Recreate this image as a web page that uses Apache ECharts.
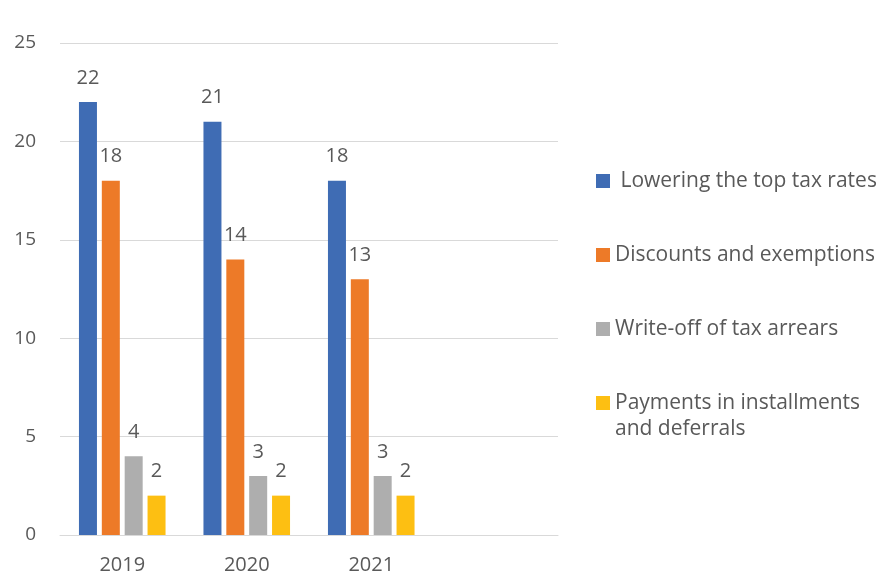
<!DOCTYPE html>
<html>
<head>
<meta charset="utf-8">
<script src="https://cdn.jsdelivr.net/npm/echarts@6/dist/echarts.min.js"></script>
<style>html,body{margin:0;padding:0;background:#fff;}#c{width:878px;height:577px;}</style>
</head>
<body>
<div id="c"></div>
<script>
const categories = ['2019', '2020', '2021', ''];
const seriesNames = ['Lowering the top tax rates', 'Discounts and exemptions', 'Write-off of tax arrears', 'Payments in installments and deferrals'];
const lowering = [22, 21, 18, null];
const discounts = [18, 14, 13, null];
const writeOff = [4, 3, 3, null];
const payments = [2, 2, 2, null];
const yTicks = [0, 5, 10, 15, 20, 25];

const colors = ['#3F6CB4', '#ED7A28', '#AEAEAE', '#FDBF12'];
const textColor = '#595959';
const font = '"Open Sans", "Noto Sans", sans-serif';
const values = [lowering, discounts, writeOff, payments];

const chart = echarts.init(document.getElementById('c'), null, {renderer: 'canvas'});
chart.setOption({
  animation: false,
  grid: {left: 60, right: 320, top: 43, bottom: 42, containLabel: false},
  xAxis: {
    type: 'category',
    data: categories,
    axisLine: {show: true, lineStyle: {color: '#d9d9d9', width: 1}},
    axisTick: {show: false},
    axisLabel: {color: textColor, fontSize: 20, fontFamily: font, margin: 20}
  },
  yAxis: {
    type: 'value',
    min: yTicks[0],
    max: yTicks[yTicks.length - 1],
    interval: 5,
    axisLine: {show: false},
    axisTick: {show: false},
    splitLine: {lineStyle: {color: '#d9d9d9', width: 1}},
    axisLabel: {color: textColor, fontSize: 19, fontFamily: font, margin: 24}
  },
  legend: {
    orient: 'vertical',
    left: 591,
    top: 162,
    itemWidth: 14,
    itemHeight: 14,
    itemGap: 46,
    icon: 'rect',
    selectedMode: false,
    textStyle: {color: textColor, fontSize: 21, fontFamily: font, lineHeight: 28},
    formatter: function (name) {
      if (name === seriesNames[0]) return ' ' + name;
      if (name === seriesNames[3]) return 'Payments in installments';
      return name;
    },
    data: seriesNames
  },
  graphic: [{
    type: 'text',
    left: 615,
    top: 419,
    style: {text: 'and deferrals', fill: textColor, font: '21px ' + font}
  }],
  series: values.map(function (v, i) {
    return {
      name: seriesNames[i],
      type: 'bar',
      data: v,
      barWidth: 18,
      barGap: '27%',
      itemStyle: {color: colors[i]},
      label: {show: true, position: 'top', distance: 14, color: textColor, fontSize: 20, fontFamily: font}
    };
  })
});
</script>
</body>
</html>
